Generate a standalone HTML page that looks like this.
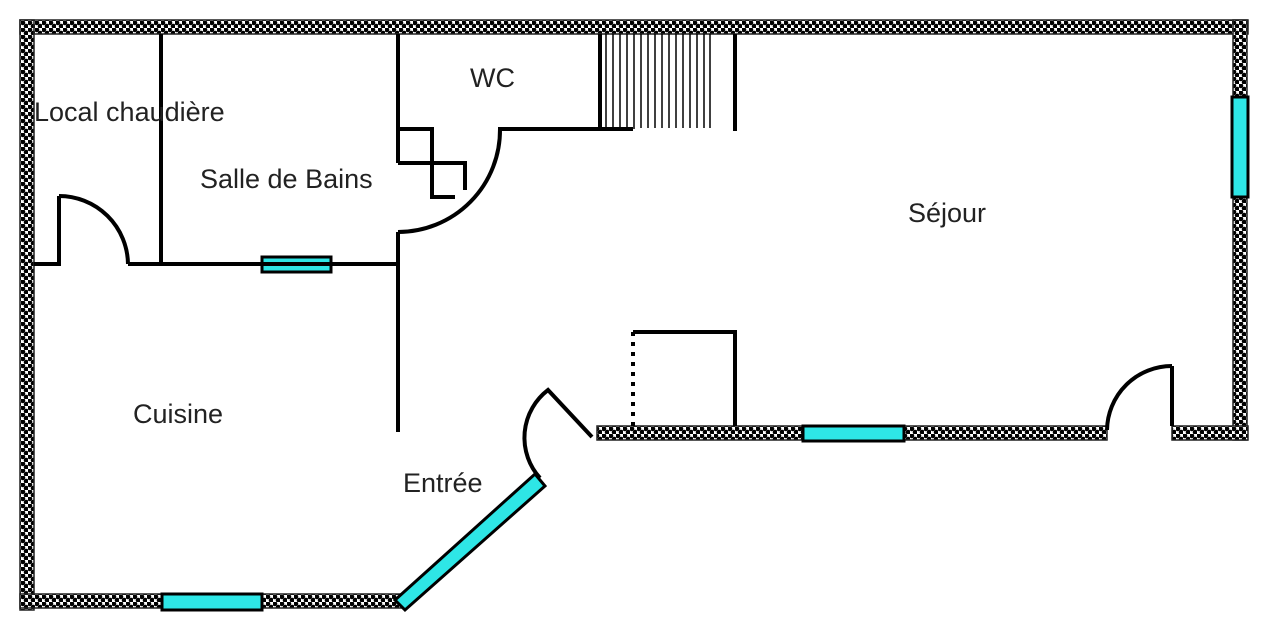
<!DOCTYPE html>
<html><head><meta charset="utf-8"><style>
html,body{margin:0;padding:0;background:#fff;}
svg{display:block}
text{font-family:"Liberation Sans",Arial,sans-serif;font-size:27px;fill:#222}
</style></head><body>
<svg width="1272" height="622" viewBox="0 0 1272 622" xmlns="http://www.w3.org/2000/svg">
<defs>
<pattern id="chk" width="7" height="7" patternUnits="userSpaceOnUse">
<rect width="7" height="7" fill="#fff"/>
<circle cx="1.75" cy="1.75" r="2.5" fill="#000"/>
<circle cx="5.25" cy="5.25" r="2.5" fill="#000"/>
</pattern>
</defs>
<g fill="url(#chk)" stroke="#222" stroke-width="1.5">
<rect x="20" y="20" width="1228" height="14"/>
<rect x="20" y="20" width="14" height="590"/>
<rect x="20" y="594" width="382" height="14"/>
<rect x="1233" y="20" width="14" height="420"/>
<rect x="597" y="426" width="510" height="14"/>
<rect x="1172" y="426" width="76" height="14"/>
</g>
<g fill="#2ee6e6" stroke="#000" stroke-width="3">
<rect x="1232" y="97" width="16" height="100"/>
<rect x="803" y="426" width="101" height="15"/>
<rect x="162" y="594" width="100" height="16"/>
<rect x="262" y="257" width="69" height="15"/>
<polygon points="395,600 535,474 545,486 405,610"/>
</g>
<g fill="none" stroke="#000" stroke-width="4">
<line x1="161" y1="34" x2="161" y2="265"/>
<polyline points="34,264 59,264 59,196"/>
<path d="M59,196 A69,69 0 0 1 128,264"/>
<line x1="128" y1="264" x2="398" y2="264"/>
<line x1="398" y1="34" x2="398" y2="163"/>
<line x1="398" y1="232" x2="398" y2="432"/>
<polyline points="398,129 432,129 432,197 455,197"/>
<polyline points="398,163 465,163 465,190"/>
<path d="M500,129 A102,102 0 0 1 398,232"/>
<line x1="498" y1="129" x2="633" y2="129"/>
<line x1="600" y1="34" x2="600" y2="129"/>
<line x1="735" y1="34" x2="735" y2="131"/>
<polyline points="633,332 735,332 735,426"/>
<line x1="633" y1="332" x2="633" y2="426" stroke-dasharray="4,6"/>
<path d="M540,478 A60,60 0 0 1 548,390 L592,437"/>
<polyline points="1172,426 1172,366"/>
<path d="M1172,366 A65,65 0 0 0 1107,430"/>
</g>
<g stroke="#000" stroke-width="1.5">
<line x1="606" y1="34" x2="606" y2="129"/><line x1="613" y1="34" x2="613" y2="129"/>
<line x1="620" y1="34" x2="620" y2="129"/><line x1="627" y1="34" x2="627" y2="129"/>
<line x1="634" y1="34" x2="634" y2="129"/><line x1="641" y1="34" x2="641" y2="128"/>
<line x1="648" y1="34" x2="648" y2="128"/><line x1="655" y1="34" x2="655" y2="128"/>
<line x1="662" y1="34" x2="662" y2="128"/><line x1="669" y1="34" x2="669" y2="128"/>
<line x1="676" y1="34" x2="676" y2="128"/><line x1="683" y1="34" x2="683" y2="128"/>
<line x1="690" y1="34" x2="690" y2="128"/><line x1="697" y1="34" x2="697" y2="128"/>
<line x1="704" y1="34" x2="704" y2="128"/><line x1="710" y1="34" x2="710" y2="128"/>
</g>
<text x="34" y="121">Local chaudière</text>
<text x="200" y="188">Salle de Bains</text>
<text x="470" y="87">WC</text>
<text x="908" y="222">Séjour</text>
<text x="133" y="423">Cuisine</text>
<text x="403" y="492">Entrée</text>
</svg>
</body></html>
